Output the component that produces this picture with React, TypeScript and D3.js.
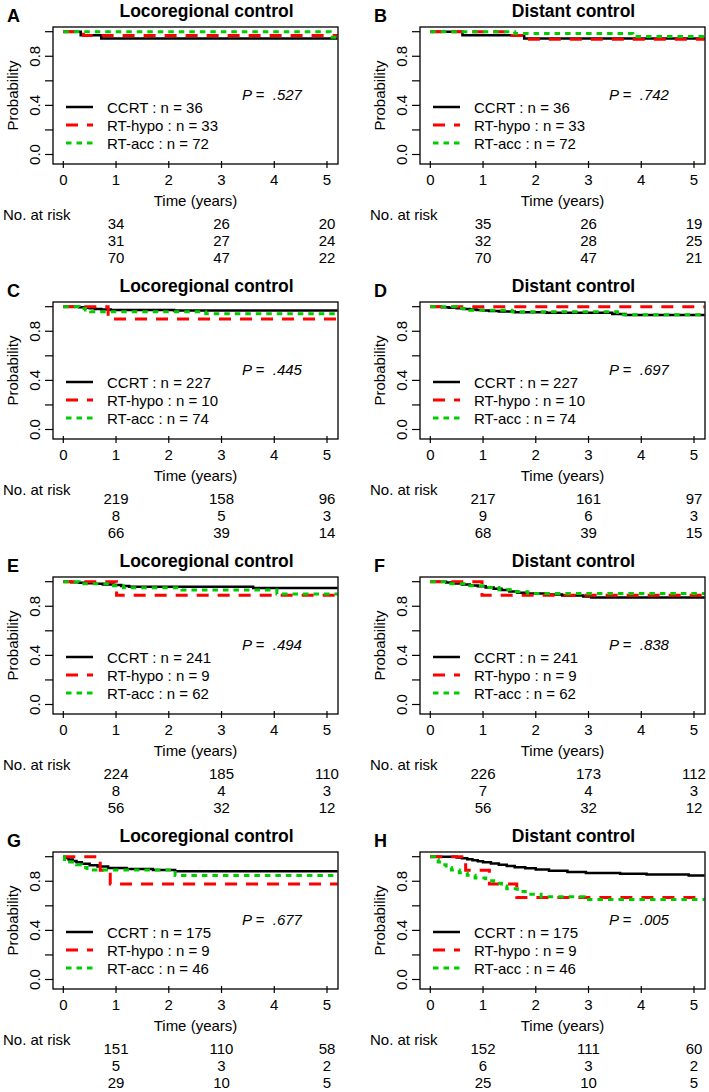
import React from 'react'
import * as d3 from 'd3'

// ---- data ----
const years = [0, 1, 2, 3, 4, 5]
const probTicks = [0, 0.2, 0.4, 0.6, 0.8, 1]
const probLabels = [0, 0.4, 0.8]
const riskYears = [1, 3, 5]
const tEnd = 5.2

const letters = ['A', 'B', 'C', 'D', 'E', 'F', 'G', 'H']
const titles = ['Locoregional control', 'Distant control']
const groups = ['CCRT', 'RT-hypo', 'RT-acc']

const nRow1 = [36, 33, 72]
const nRow2 = [227, 10, 74]
const nRow3 = [241, 9, 62]
const nRow4 = [175, 9, 46]

const pValues = ['.527', '.742', '.445', '.697', '.494', '.838', '.677', '.005']

const riskA = [[34, 26, 20], [31, 27, 24], [70, 47, 22]]
const riskB = [[35, 26, 19], [32, 28, 25], [70, 47, 21]]
const riskC = [[219, 158, 96], [8, 5, 3], [66, 39, 14]]
const riskD = [[217, 161, 97], [9, 6, 3], [68, 39, 15]]
const riskE = [[224, 185, 110], [8, 4, 3], [56, 32, 12]]
const riskF = [[226, 173, 112], [7, 4, 3], [56, 32, 12]]
const riskG = [[151, 110, 58], [5, 3, 2], [29, 10, 5]]
const riskH = [[152, 111, 60], [6, 3, 2], [25, 10, 5]]

// Kaplan-Meier steps: [time (years), probability]
const kmA_ccrt = [[0, 1], [0.33, 0.972], [0.72, 0.944]]
const kmA_hypo = [[0, 1], [0.38, 0.97]]
const kmA_acc = [[0, 1], [5.06, 0.955]]

const kmB_ccrt = [[0, 1], [0.61, 0.972], [1.78, 0.944]]
const kmB_hypo = [[0, 1], [1.45, 0.97], [1.75, 0.939]]
const kmB_acc = [[0, 1], [1.6, 0.986], [3.84, 0.961]]

const kmC_ccrt = [[0, 1], [0.3, 0.996], [0.42, 0.991], [0.5, 0.987], [0.6, 0.982], [0.72, 0.978], [0.9, 0.974], [2.1, 0.97]]
const kmC_hypo = [[0, 1], [0.85, 0.9]]
const kmC_acc = [[0, 1], [0.3, 0.986], [0.42, 0.973], [0.52, 0.959], [2.7, 0.943]]

const kmD_ccrt = [[0, 1], [0.22, 0.996], [0.35, 0.991], [0.5, 0.987], [0.62, 0.982], [0.75, 0.978], [0.88, 0.973], [1.0, 0.969], [1.12, 0.964], [1.3, 0.96], [1.6, 0.955], [2.2, 0.951], [3.45, 0.94], [3.7, 0.932]]
const kmD_hypo = [[0, 1]]
const kmD_acc = [[0, 1], [0.5, 0.986], [0.75, 0.972], [1.55, 0.958], [3.55, 0.934]]

const kmE_ccrt = [[0, 1], [0.15, 0.996], [0.3, 0.991], [0.45, 0.987], [0.6, 0.983], [0.75, 0.978], [0.95, 0.974], [1.1, 0.966], [1.25, 0.959], [3.6, 0.948]]
const kmE_hypo = [[0, 1], [1.01, 0.889]]
const kmE_acc = [[0, 1], [0.3, 0.984], [0.95, 0.968], [1.14, 0.951], [2.25, 0.932], [4.05, 0.9]]

const kmF_ccrt = [[0, 1], [0.3, 0.993], [0.45, 0.985], [0.6, 0.978], [0.75, 0.97], [0.9, 0.962], [1.05, 0.952], [1.2, 0.942], [1.35, 0.932], [1.5, 0.921], [1.65, 0.911], [1.85, 0.903], [2.2, 0.896], [2.5, 0.888], [2.9, 0.88], [3.05, 0.871]]
const kmF_hypo = [[0, 1], [0.98, 0.889]]
const kmF_acc = [[0, 1], [0.35, 0.984], [0.7, 0.968], [1.0, 0.952], [1.3, 0.935], [1.6, 0.919], [1.85, 0.903]]

const kmG_ccrt = [[0, 1], [0.02, 0.989], [0.1, 0.977], [0.18, 0.966], [0.25, 0.954], [0.35, 0.943], [0.5, 0.931], [0.65, 0.92], [0.85, 0.908], [1.2, 0.9], [1.7, 0.892], [2.12, 0.881]]
const kmG_hypo = [[0, 1], [0.7, 0.889], [0.89, 0.778]]
const kmG_acc = [[0, 1], [0.02, 0.978], [0.12, 0.957], [0.25, 0.935], [0.35, 0.913], [0.45, 0.891], [2.12, 0.846]]

const kmH_ccrt = [[0, 1], [0.5, 0.994], [0.6, 0.988], [0.7, 0.98], [0.8, 0.971], [0.9, 0.963], [1.0, 0.955], [1.15, 0.945], [1.3, 0.935], [1.45, 0.925], [1.6, 0.915], [1.8, 0.905], [2.0, 0.895], [2.25, 0.885], [2.6, 0.875], [2.95, 0.868], [3.6, 0.862], [4.1, 0.856], [4.9, 0.847]]
const kmH_hypo = [[0, 1], [0.67, 0.889], [1.12, 0.778], [1.64, 0.667]]
const kmH_acc = [[0, 1], [0.08, 0.978], [0.15, 0.957], [0.22, 0.935], [0.3, 0.913], [0.4, 0.891], [0.55, 0.87], [0.7, 0.848], [0.85, 0.826], [1.05, 0.804], [1.2, 0.783], [1.35, 0.761], [1.45, 0.739], [1.65, 0.717], [1.8, 0.695], [2.1, 0.673], [2.92, 0.651]]

// ---- panels built from the arrays above ----
const nByRow = [nRow1, nRow2, nRow3, nRow4]
const risks = [riskA, riskB, riskC, riskD, riskE, riskF, riskG, riskH]
const curves = [
  [kmA_ccrt, kmA_hypo, kmA_acc], [kmB_ccrt, kmB_hypo, kmB_acc],
  [kmC_ccrt, kmC_hypo, kmC_acc], [kmD_ccrt, kmD_hypo, kmD_acc],
  [kmE_ccrt, kmE_hypo, kmE_acc], [kmF_ccrt, kmF_hypo, kmF_acc],
  [kmG_ccrt, kmG_hypo, kmG_acc], [kmH_ccrt, kmH_hypo, kmH_acc],
]

// styles
const colors = ['#000000', '#ff0000', '#00cc00']
const dashes = [undefined, '12,9', '5.5,5']
const widths = [2.5, 3, 3]
const font = '"Liberation Sans", Arial, Helvetica, sans-serif'

// layout (panel-local)
const colStep = 367
const rowStep = 275
const box = { x0: 53, x1: 338, y0: 27, y1: 164 }

const x = d3.scaleLinear().domain([0, 5]).range([63.3, 327])
const y = d3.scaleLinear().domain([0, 1]).range([154.5, 31.7])

const line = d3.line<number[]>()
  .x(d => x(d[0]))
  .y(d => y(d[1]))
  .curve(d3.curveStepAfter)

const Panel = ({ i }: { i: number }) => {
  const col = i % 2
  const row = Math.floor(i / 2)
  const n = nByRow[row]
  const risk = risks[i]
  const plotCx = (box.x0 + box.x1) / 2
  const plotCy = (box.y0 + box.y1) / 2

  return (
    <g transform={`translate(${col * colStep},${row * rowStep})`} fontFamily={font} fill="#000">
      <text x={7} y={21.5} fontSize={18} fontWeight="bold">{letters[i]}</text>
      <text x={206.5} y={16.5} fontSize={17.5} fontWeight="bold" textAnchor="middle">{titles[col]}</text>

      {curves[i].map((pts, g) => {
        const last = pts[pts.length - 1]
        const full = [...pts, [tEnd, last[1]]]
        return (
          <path key={g} d={line(full) || ''} fill="none" stroke={colors[g]}
            strokeWidth={widths[g]} strokeDasharray={dashes[g]} />
        )
      })}

      <rect x={box.x0} y={box.y0} width={box.x1 - box.x0} height={box.y1 - box.y0}
        fill="none" stroke="#000" strokeWidth={1.3} />

      {probTicks.map(v => (
        <line key={v} x1={45} x2={box.x0} y1={y(v)} y2={y(v)} stroke="#000" strokeWidth={1.2} />
      ))}
      {probLabels.map(v => (
        <text key={v} transform={`translate(40,${y(v)}) rotate(-90)`} fontSize={15} textAnchor="middle">
          {v.toFixed(1)}
        </text>
      ))}
      <text transform={`translate(17.5,${plotCy}) rotate(-90)`} fontSize={15} textAnchor="middle">Probability</text>

      {years.map(v => (
        <g key={v}>
          <line x1={x(v)} x2={x(v)} y1={161} y2={168} stroke="#000" strokeWidth={1.2} />
          <text x={x(v)} y={185} fontSize={15} textAnchor="middle">{v}</text>
        </g>
      ))}
      <text x={plotCx} y={205.5} fontSize={15} textAnchor="middle">Time (years)</text>

      {groups.map((g, k) => (
        <g key={g}>
          <line x1={66} x2={93} y1={107 + k * 18} y2={107 + k * 18} stroke={colors[k]}
            strokeWidth={widths[k]} strokeDasharray={dashes[k]} />
          <text x={107} y={113 + k * 18} fontSize={15}>{`${g} : n = ${n[k]}`}</text>
        </g>
      ))}

      <text x={242} y={100} fontSize={15} fontStyle="italic">{`P = \u00a0${pValues[i]}`}</text>

      <text x={3} y={219.5} fontSize={15}>No. at risk</text>
      {risk.map((r, k) => r.map((v, j) => (
        <text key={`${k}-${j}`} x={x(riskYears[j])} y={229.3 + k * 16.7} fontSize={15} textAnchor="middle">{v}</text>
      )))}
    </g>
  )
}

export default function App() {
  return (
    <svg width={709} height={1092} style={{ position: 'absolute', left: 0, top: 0, background: '#fff' }}>
      <rect width={709} height={1092} fill="#fff" />
      {letters.map((_, i) => <Panel key={i} i={i} />)}
    </svg>
  )
}
